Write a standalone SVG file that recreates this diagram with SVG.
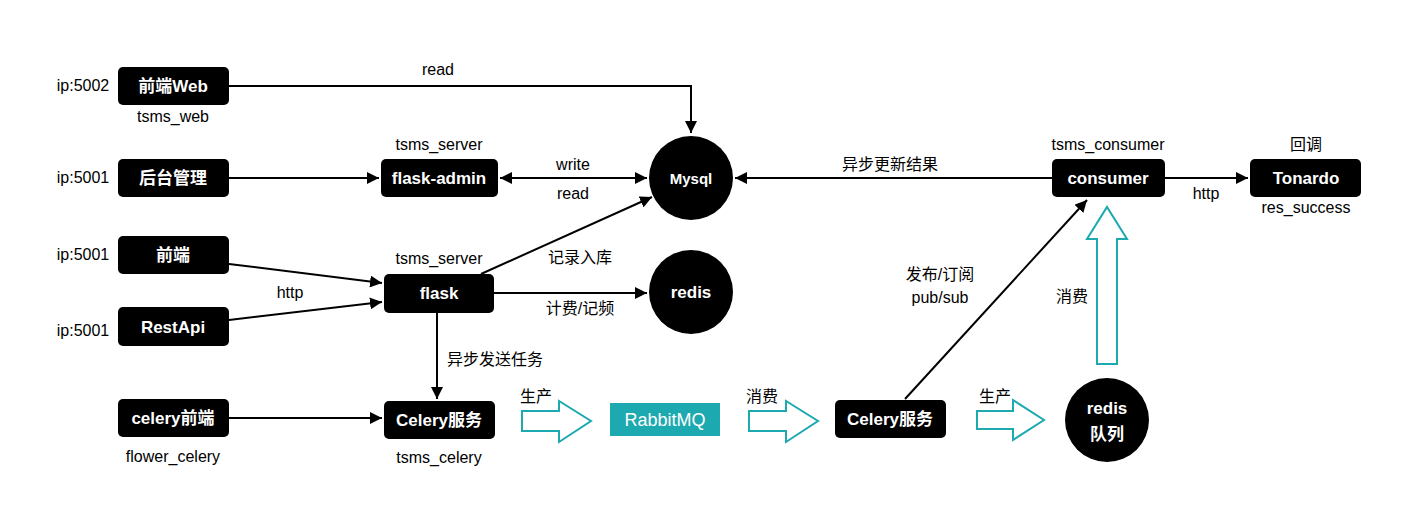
<svg xmlns="http://www.w3.org/2000/svg" width="1412" height="521" viewBox="0 0 1412 521">
<style>
.n{fill:#000}
.nt{fill:#fff;font-family:"Liberation Sans","Noto Sans CJK SC",sans-serif;font-size:17px;font-weight:bold;text-anchor:middle;dominant-baseline:central}
.l{fill:#000;font-family:"Liberation Sans","Noto Sans CJK SC",sans-serif;font-size:16px;text-anchor:middle;dominant-baseline:central}
.c{stroke:#000;stroke-width:2;fill:none}
.h{fill:none;stroke:#1DA9B0;stroke-width:2}
</style>
<defs>
<marker id="a2" viewBox="0 0 10 10" refX="10" refY="5" markerWidth="12" markerHeight="12" markerUnits="userSpaceOnUse" orient="auto-start-reverse"><path d="M0,0 L10,5 L0,10 z" fill="#000"/></marker>
</defs>
<rect width="1412" height="521" fill="#fff"/>
<g id="connectors">
<path class="c" d="M229,86 H691 V133" marker-end="url(#a2)"/>
<path class="c" d="M229,178 H379" marker-end="url(#a2)"/>
<path class="c" d="M500,178 H647" marker-start="url(#a2)" marker-end="url(#a2)"/>
<path class="c" d="M229,264 L382,283" marker-end="url(#a2)"/>
<path class="c" d="M229,320 L382,302" marker-end="url(#a2)"/>
<path class="c" d="M481,274 L652,197" marker-end="url(#a2)"/>
<path class="c" d="M494,293 H647" marker-end="url(#a2)"/>
<path class="c" d="M437,313 V399" marker-end="url(#a2)"/>
<path class="c" d="M229,418 H382" marker-end="url(#a2)"/>
<path class="c" d="M1052,178 H735" marker-end="url(#a2)"/>
<path class="c" d="M905,399 L1087,200" marker-end="url(#a2)"/>
<path class="c" d="M1165,178 H1248" marker-end="url(#a2)"/>
<path class="h" d="M522,411 H559 V401 L591,421 L559,442 V431 H522 Z"/>
<path class="h" d="M749,411 H786 V401 L818,421 L786,442 V431 H749 Z"/>
<path class="h" d="M977,411 H1013 V400 L1044,420 L1013,440 V429 H977 Z"/>
<path class="h" d="M1097,364 V239 H1087 L1107,207 L1127,239 H1117 V364 Z"/>
<text class="l" x="438" y="69">read</text>
<text class="l" x="573" y="164">write</text>
<text class="l" x="573" y="193">read</text>
<text class="l" x="290" y="292">http</text>
<text class="l" x="580" y="257">记录入库</text>
<text class="l" x="580" y="308">计费/记频</text>
<text class="l" x="495" y="359">异步发送任务</text>
<text class="l" x="890" y="164">异步更新结果</text>
<text class="l" x="940" y="274">发布/订阅</text>
<text class="l" x="940" y="297">pub/sub</text>
<text class="l" x="1206" y="193">http</text>
<text class="l" x="1072" y="296">消费</text>
<text class="l" x="536" y="396">生产</text>
<text class="l" x="762" y="396">消费</text>
<text class="l" x="995" y="396">生产</text>
</g>
<g id="web"><rect class="n" x="118" y="67" width="111" height="38" rx="5"/><text class="nt" x="173" y="86">前端Web</text><text class="l" x="83" y="85">ip:5002</text><text class="l" x="173" y="116">tsms_web</text></g>
<g id="admin"><rect class="n" x="118" y="159" width="111" height="38" rx="5"/><text class="nt" x="173" y="178">后台管理</text><text class="l" x="83" y="177">ip:5001</text></g>
<g id="front"><rect class="n" x="118" y="236" width="111" height="38" rx="5"/><text class="nt" x="173" y="255">前端</text><text class="l" x="83" y="254">ip:5001</text></g>
<g id="restapi"><rect class="n" x="118" y="307" width="111" height="39" rx="5"/><text class="nt" x="173" y="327">RestApi</text><text class="l" x="83" y="330">ip:5001</text></g>
<g id="celeryfront"><rect class="n" x="118" y="399" width="111" height="38" rx="5"/><text class="nt" x="173" y="418">celery前端</text><text class="l" x="173" y="456">flower_celery</text></g>
<g id="flaskadmin"><rect class="n" x="381" y="159" width="117" height="38" rx="5"/><text class="nt" x="439" y="178">flask-admin</text><text class="l" x="439" y="144">tsms_server</text></g>
<g id="flask"><rect class="n" x="384" y="274" width="110" height="39" rx="5"/><text class="nt" x="439" y="293">flask</text><text class="l" x="439" y="258">tsms_server</text></g>
<g id="celery1"><rect class="n" x="384" y="401" width="111" height="38" rx="5"/><text class="nt" x="439" y="420">Celery服务</text><text class="l" x="439" y="457">tsms_celery</text></g>
<g id="mysql"><circle class="n" cx="691" cy="178" r="42"/><text class="nt" x="691" y="178" style="font-size:15px">Mysql</text></g>
<g id="redis"><circle class="n" cx="691" cy="292" r="42"/><text class="nt" x="691" y="292">redis</text></g>
<g id="rabbitmq"><rect x="610" y="403" width="110" height="33" fill="#1DA9B0"/><text class="nt" x="665" y="420" style="font-weight:normal;font-size:18px">RabbitMQ</text></g>
<g id="celery2"><rect class="n" x="835" y="400" width="111" height="38" rx="5"/><text class="nt" x="890" y="419">Celery服务</text></g>
<g id="redisq"><circle class="n" cx="1107" cy="420" r="42"/><text class="nt" x="1107" y="408">redis</text><text class="nt" x="1107" y="434">队列</text></g>
<g id="consumer"><rect class="n" x="1052" y="159" width="113" height="38" rx="5"/><text class="nt" x="1108" y="178">consumer</text><text class="l" x="1108" y="144">tsms_consumer</text></g>
<g id="tonardo"><rect class="n" x="1250" y="159" width="111" height="38" rx="5"/><text class="nt" x="1306" y="178">Tonardo</text><text class="l" x="1306" y="144">回调</text><text class="l" x="1306" y="207">res_success</text></g>
</svg>
